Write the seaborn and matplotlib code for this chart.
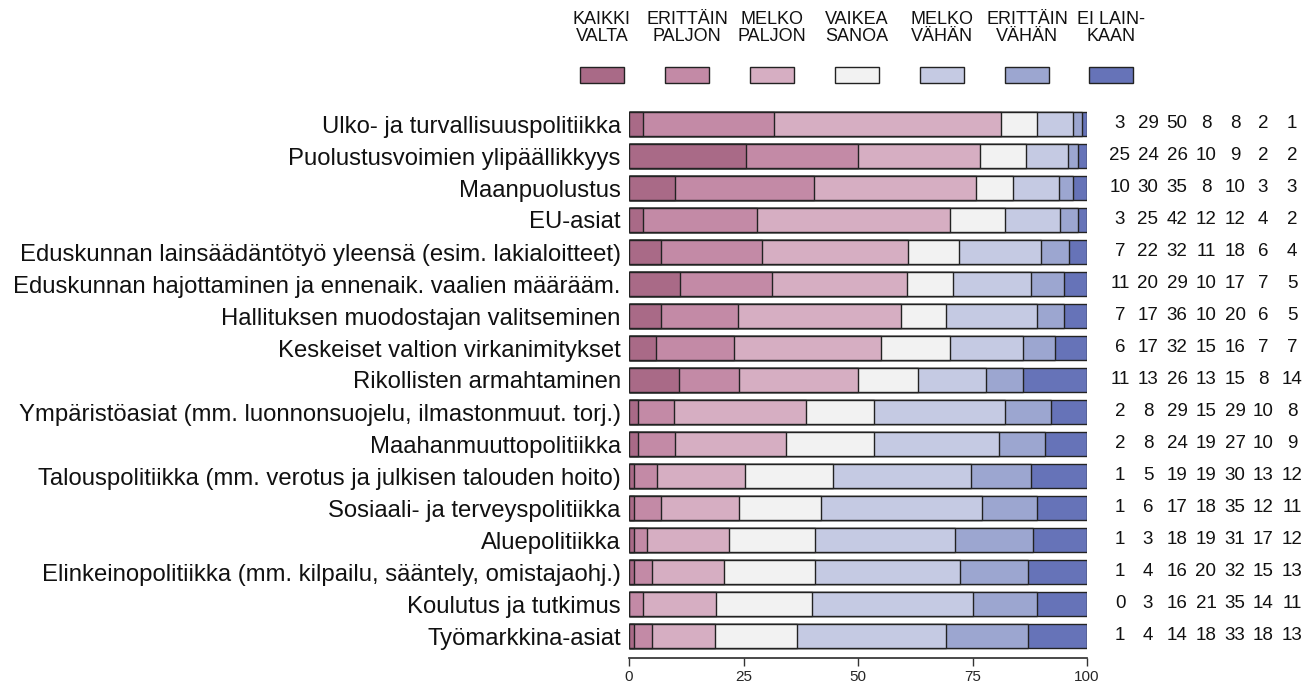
import numpy as np
import pandas as pd
import matplotlib
matplotlib.use("Agg")
import matplotlib.pyplot as plt
import matplotlib.transforms as mtransforms
from matplotlib.patches import Rectangle
import seaborn as sns

categories = [
    "Ulko- ja turvallisuuspolitiikka",
    "Puolustusvoimien ylipäällikkyys",
    "Maanpuolustus",
    "EU-asiat",
    "Eduskunnan lainsäädäntötyö yleensä (esim. lakialoitteet)",
    "Eduskunnan hajottaminen ja ennenaik. vaalien määrääm.",
    "Hallituksen muodostajan valitseminen",
    "Keskeiset valtion virkanimitykset",
    "Rikollisten armahtaminen",
    "Ympäristöasiat (mm. luonnonsuojelu, ilmastonmuut. torj.)",
    "Maahanmuuttopolitiikka",
    "Talouspolitiikka (mm. verotus ja julkisen talouden hoito)",
    "Sosiaali- ja terveyspolitiikka",
    "Aluepolitiikka",
    "Elinkeinopolitiikka (mm. kilpailu, sääntely, omistajaohj.)",
    "Koulutus ja tutkimus",
    "Työmarkkina-asiat",
]

legend_labels = ["KAIKKI\nVALTA", "ERITTÄIN\nPALJON", "MELKO\nPALJON", "VAIKEA\nSANOA",
                 "MELKO\nVÄHÄN", "ERITTÄIN\nVÄHÄN", "EI LAIN-\nKAAN"]

kaikki_valta = [3, 25, 10, 3, 7, 11, 7, 6, 11, 2, 2, 1, 1, 1, 1, 0, 1]
erittain_paljon = [29, 24, 30, 25, 22, 20, 17, 17, 13, 8, 8, 5, 6, 3, 4, 3, 4]
melko_paljon = [50, 26, 35, 42, 32, 29, 36, 32, 26, 29, 24, 19, 17, 18, 16, 16, 14]
vaikea_sanoa = [8, 10, 8, 12, 11, 10, 10, 15, 13, 15, 19, 19, 18, 19, 20, 21, 18]
melko_vahan = [8, 9, 10, 12, 18, 17, 20, 16, 15, 29, 27, 30, 35, 31, 32, 35, 33]
erittain_vahan = [2, 2, 3, 4, 6, 7, 6, 7, 8, 10, 10, 13, 12, 17, 15, 14, 18]
ei_lainkaan = [1, 2, 3, 2, 4, 5, 5, 7, 14, 8, 9, 12, 11, 12, 13, 11, 13]

colors = ["#A96A87", "#C38AA6", "#D6AEC2", "#F2F2F2", "#C5CAE3", "#9CA6D0", "#6673B8"]

series = [kaikki_valta, erittain_paljon, melko_paljon, vaikea_sanoa,
          melko_vahan, erittain_vahan, ei_lainkaan]
vals = np.array(series, dtype=float)  # (7, n)
shares = vals / vals.sum(axis=0) * 100
cum = np.cumsum(shares, axis=0)

sns.set_theme(style="white")
plt.rcParams["font.family"] = ["Liberation Sans", "DejaVu Sans"]

W, H = 1315, 688
fig = plt.figure(figsize=(W / 100, H / 100), dpi=100)
ax = fig.add_axes([629 / W, 1 - 652 / H, (1087 - 629) / W, 544 / H])

for k in range(6, -1, -1):
    df = pd.DataFrame({"cat": categories, "val": cum[k]})
    sns.barplot(data=df, x="val", y="cat", orient="h", color=colors[k],
                saturation=1, edgecolor="#222222", linewidth=1.0,
                width=0.76, ax=ax, order=categories)

ax.set_xlim(0, 100)
ax.set_ylim(len(categories) - 0.5, -0.5)
ax.set_xlabel("")
ax.set_ylabel("")
ax.set_xticks([0, 25, 50, 75, 100])
ax.set_xticklabels(["0", "25", "50", "75", "100"], fontsize=13, color="#111111")
ax.tick_params(axis="x", length=6, width=1, color="#333333", pad=3, bottom=True)
ax.tick_params(axis="y", length=0, labelsize=17.2, pad=6)
for lab in ax.get_yticklabels():
    lab.set_color("#111111")
for s in ["top", "right", "left"]:
    ax.spines[s].set_visible(False)
ax.spines["bottom"].set_position(("outward", 4))
ax.spines["bottom"].set_color("#333333")
ax.grid(False)

# numbers column
trans = mtransforms.blended_transform_factory(fig.transFigure, ax.transData)
col_x = [1120, 1148, 1177, 1206, 1235, 1263, 1292]
for k in range(7):
    for i in range(len(categories)):
        ax.text(col_x[k] / W, i, f"{int(vals[k, i])}", transform=trans,
                ha="center", va="center", fontsize=13.5, color="#111111")

# legend
leg_x = [602, 687, 772, 857, 942, 1027, 1111]
for k in range(7):
    fig.text(leg_x[k] / W, 1 - 11 / H, legend_labels[k], ha="center", va="top",
             fontsize=13, linespacing=1.02, color="#111111")
    fig.patches.append(Rectangle(((leg_x[k] - 22) / W, 1 - 83 / H), 44 / W, 16 / H,
                                 transform=fig.transFigure, facecolor=colors[k],
                                 edgecolor="#222222", linewidth=1.0))

fig.savefig("out.png", dpi=100)
